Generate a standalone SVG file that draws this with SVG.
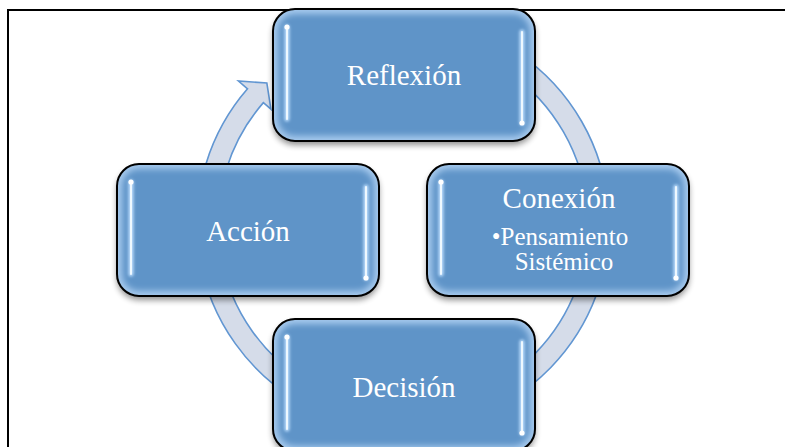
<svg xmlns="http://www.w3.org/2000/svg" xmlns:xlink="http://www.w3.org/1999/xlink" width="785" height="447" viewBox="0 0 785 447">
<style>
.lbl{font-family:"Liberation Serif","Times New Roman",serif;fill:#ffffff;text-anchor:middle}
.main{font-size:29px}
.sub{font-size:25px}
.frame{stroke:#000;stroke-width:2;fill:none}
.ring{fill:#d5dce9;stroke:#6196d2;stroke-width:1.6;stroke-linejoin:miter}
</style>
<defs>
<filter id="sh" x="-10%" y="-10%" width="120%" height="135%">
<feGaussianBlur in="SourceAlpha" stdDeviation="3"/>
<feOffset dy="4" result="o"/>
<feComponentTransfer><feFuncA type="linear" slope="0.45"/></feComponentTransfer>
<feMerge><feMergeNode/><feMergeNode in="SourceGraphic"/></feMerge>
</filter>
<filter id="bl" x="-10%" y="-10%" width="120%" height="120%"><feGaussianBlur stdDeviation="3"/></filter>
<filter id="gl" x="-200%" y="-10%" width="500%" height="120%"><feGaussianBlur stdDeviation="1.5"/></filter>
<clipPath id="bc"><rect width="262" height="132" rx="22"/></clipPath>
<g id="box">
<rect width="262" height="132" rx="22" fill="#5e94c8" filter="url(#sh)"/>
<g clip-path="url(#bc)"><rect width="262" height="132" rx="22" fill="none" stroke="#a8cbee" stroke-width="10" filter="url(#bl)"/></g>
<g stroke-linecap="round">
<path d="M14 18 V110 M249 23 V114" stroke="#bfe0ff" stroke-width="5" filter="url(#gl)"/>
<path d="M14 18 V110 M249 23 V114" stroke="#eef8ff" stroke-width="2"/>
</g>
<circle cx="14" cy="18" r="2.6" fill="#ffffff"/>
<circle cx="249" cy="114" r="2.6" fill="#ffffff"/>
<rect width="262" height="132" rx="22" fill="none" stroke="#000" stroke-width="2"/>
</g>
</defs>
<rect width="785" height="447" fill="#ffffff"/>
<path class="frame" d="M8 447 V10 H785"/>
<g id="connectors">
<path class="ring" d="M 438.77 21.13 A 206 206 0 1 1 247.53 88.85 L 238.47 80.98 L 266.85 83.01 L 270.93 109.19 L 263.38 102.63 A 185 185 0 1 0 435.13 41.81 Z"/>
</g>
<g id="node-reflexion">
<use xlink:href="#box" x="273" y="9"/>
<text class="lbl main" x="404" y="85">Reflexión</text>
</g>
<g id="node-conexion">
<use xlink:href="#box" x="427" y="164"/>
<text class="lbl main" x="559" y="208">Conexión</text>
<text class="lbl sub" x="560" y="245">•Pensamiento</text>
<text class="lbl sub" x="564" y="270">Sistémico</text>
</g>
<g id="node-accion">
<use xlink:href="#box" x="117" y="164"/>
<text class="lbl main" x="248" y="241">Acción</text>
</g>
<g id="node-decision">
<use xlink:href="#box" x="273" y="319"/>
<text class="lbl main" x="404" y="397">Decisión</text>
</g>
</svg>
